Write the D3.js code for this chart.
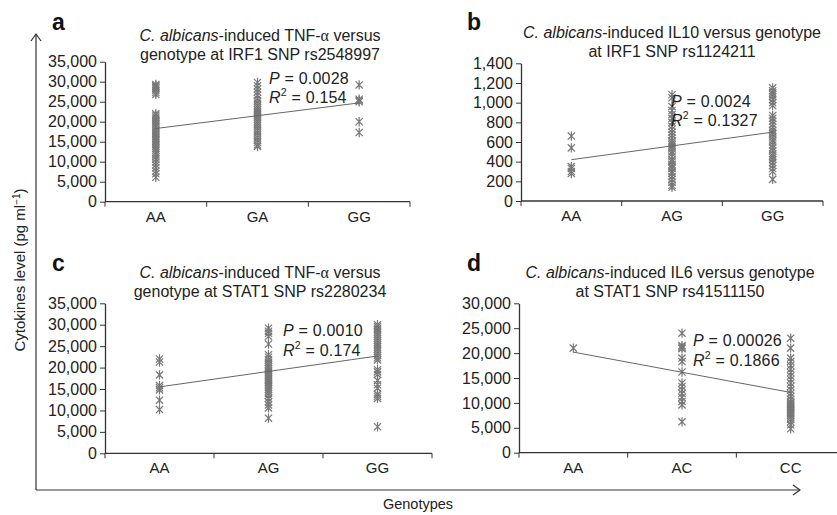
<!DOCTYPE html>
<html>
<head>
<meta charset="utf-8">
<script src="https://cdn.jsdelivr.net/npm/d3@7"></script>
<style>
  body { margin: 0; background: #fff; }
  svg { font-family: "Liberation Sans", Arial, sans-serif; }
</style>
</head>
<body>
<svg id="chart" width="837" height="515"></svg>
<script>
// panel a: TNF-a vs IRF1 rs2548997
var aCats = ["AA", "GA", "GG"],
    aTicks = [0, 5000, 10000, 15000, 20000, 25000, 30000, 35000],
    aAA = [29300, 29000, 28800, 28500, 28200, 27800, 27300, 26800, 22000, 21600, 21200, 20800, 20300, 19900, 19500, 19000, 18600, 18100, 17700, 17200, 16800, 16300, 15900, 15500, 15100, 14700, 14300, 13900, 13400, 12900, 12300, 11800, 11200, 10600, 9900, 9200, 8500, 7600, 7000, 6100],
    aGA = [29800, 29000, 28200, 27400, 26600, 25800, 25200, 24600, 24000, 23500, 23000, 22600, 22200, 21800, 21400, 21000, 20500, 20000, 19500, 19000, 18400, 17800, 17200, 16600, 16000, 15400, 14800, 14200, 13800],
    aGG = [29200, 25600, 25300, 25000, 20000, 17300],
    aFit = [18300, 24700];

// panel b: IL10 vs IRF1 rs1124211
var bCats = ["AA", "AG", "GG"],
    bTicks = [0, 200, 400, 600, 800, 1000, 1200, 1400],
    bAA = [660, 540, 350, 330, 300, 280],
    bAG = [1080, 1050, 960, 920, 880, 840, 800, 760, 730, 700, 670, 640, 610, 590, 570, 550, 530, 500, 480, 450, 420, 400, 370, 350, 330, 300, 280, 250, 220, 190, 160, 140],
    bGG = [1150, 1120, 1100, 1080, 1060, 1030, 1000, 970, 870, 840, 810, 780, 750, 720, 700, 680, 650, 620, 600, 570, 540, 510, 480, 460, 440, 420, 390, 360, 330, 300, 220],
    bFit = [420, 700];

// panel c: TNF-a vs STAT1 rs2280234
var cCats = ["AA", "AG", "GG"],
    cTicks = [0, 5000, 10000, 15000, 20000, 25000, 30000, 35000],
    cAA = [22000, 21300, 18300, 15800, 15300, 14800, 12400, 10200],
    cAG = [29200, 28500, 28000, 27300, 25500, 23000, 22400, 21800, 21200, 20700, 20200, 19800, 19400, 19000, 18600, 18200, 17800, 17400, 17000, 16600, 16200, 15800, 15400, 15000, 14500, 14000, 13500, 12800, 12000, 11300, 10600, 8200],
    cGG = [30000, 29600, 29200, 28800, 28300, 27800, 27300, 26800, 26300, 25800, 25300, 24800, 24300, 23800, 23300, 22800, 22300, 21800, 19500, 19000, 18400, 17000, 16000, 15200, 13800, 13300, 12800, 6200],
    cFit = [15500, 22700];

// panel d: IL6 vs STAT1 rs41511150
var dCats = ["AA", "AC", "CC"],
    dTicks = [0, 5000, 10000, 15000, 20000, 25000, 30000],
    dAA = [21000],
    dAC = [24000, 21500, 21200, 20900, 19000, 18300, 16200, 14000, 13300, 12600, 11900, 11100, 10300, 9600, 6200],
    dCC = [23000, 21000, 19000, 18300, 17500, 16800, 16100, 15400, 14700, 14000, 13300, 12600, 11900, 11300, 10700, 10200, 9900, 9600, 9300, 9000, 8700, 8400, 8100, 7800, 7500, 7100, 6700, 6200, 5600, 4800],
    dFit = [20200, 12100];

var panels = [
    {letter: "a", cats: aCats, ticks: aTicks, groups: [aAA, aGA, aGG], fit: aFit,
     x0: 105, x1: 410, y0: 201.7, y1: 61.7, lx: 52, ly: 30,
     tx: 260, ty: 40.5, t1: ["TNF-", "α", " versus"], t2: "genotype at IRF1 SNP rs2548997",
     px: 269, py: 83.5, p: "0.0028", r: "0.154"},
    {letter: "b", cats: bCats, ticks: bTicks, groups: [bAA, bAG, bGG], fit: bFit,
     x0: 521, x1: 823, y0: 201, y1: 63.3, lx: 467, ly: 30,
     tx: 672, ty: 37.5, t1: ["IL10 versus genotype"], t2: "at IRF1 SNP rs1124211",
     px: 671, py: 106.5, p: "0.0024", r: "0.1327"},
    {letter: "c", cats: cCats, ticks: cTicks, groups: [cAA, cAG, cGG], fit: cFit,
     x0: 105, x1: 432, y0: 453.3, y1: 303.3, lx: 52, ly: 271,
     tx: 260, ty: 277.5, t1: ["TNF-", "α", " versus"], t2: "genotype at STAT1 SNP rs2280234",
     px: 283, py: 336, p: "0.0010", r: "0.174"},
    {letter: "d", cats: dCats, ticks: dTicks, groups: [dAA, dAC, dCC], fit: dFit,
     x0: 519, x1: 845, y0: 452.7, y1: 303.3, lx: 467, ly: 271,
     tx: 670, ty: 277.5, t1: ["IL6 versus genotype"], t2: "at STAT1 SNP rs41511150",
     px: 693, py: 346, p: "0.00026", r: "0.1866"}
];

var svg = d3.select("#chart"),
    ink = "#222",
    markColor = "#777";

// asterisk marker: X with a vertical bar
function star(s) {
    return "M" + (-s) + "," + (-s) + "L" + s + "," + s +
           "M" + (-s) + "," + s + "L" + s + "," + (-s) +
           "M0," + (-s * 1.3) + "L0," + (s * 1.3);
}

panels.forEach(function (pn) {
    var g = svg.append("g"),
        x = d3.scaleBand().domain(pn.cats).range([pn.x0, pn.x1]).padding(0),
        y = d3.scaleLinear().domain([0, d3.max(pn.ticks)]).range([pn.y0, pn.y1]),
        cx = function (c) { return x(c) + x.bandwidth() / 2; };

    // y axis
    var yAxis = d3.axisLeft(y).tickValues(pn.ticks).tickSize(5).tickSizeOuter(0)
        .tickFormat(d3.format(","));
    var ya = g.append("g").attr("transform", "translate(" + pn.x0 + ",0)").call(yAxis);
    ya.select(".domain").attr("stroke", "#333").attr("stroke-width", 1.3);
    ya.selectAll(".tick line").attr("stroke", "#333");
    ya.selectAll(".tick text").attr("font-size", 16).attr("fill", ink).attr("x", -8)
        .attr("font-family", "Liberation Sans, Arial, sans-serif");

    // x axis: line, boundary ticks, labels
    g.append("line").attr("x1", pn.x0).attr("x2", pn.x1).attr("y1", pn.y0).attr("y2", pn.y0)
        .attr("stroke", "#333").attr("stroke-width", 1.3);
    var bounds = pn.cats.map(function (c) { return x(c); }).concat([pn.x1]);
    g.selectAll(".bt").data(bounds).enter().append("line")
        .attr("x1", function (d) { return d; }).attr("x2", function (d) { return d; })
        .attr("y1", pn.y0).attr("y2", pn.y0 + 5).attr("stroke", "#333");
    g.selectAll(".xl").data(pn.cats).enter().append("text")
        .attr("x", cx).attr("y", pn.y0 + 20).attr("text-anchor", "middle")
        .attr("font-size", 15).attr("fill", ink).text(function (d) { return d; });

    // points
    pn.groups.forEach(function (vals, i) {
        var c = pn.cats[i];
        g.selectAll(".m" + i).data(vals).enter().append("path")
            .attr("d", star(3.6))
            .attr("transform", function (v) { return "translate(" + cx(c) + "," + y(v) + ")"; })
            .attr("fill", "none").attr("stroke", markColor).attr("stroke-width", 1.2);
    });

    // trend line
    g.append("line")
        .attr("x1", cx(pn.cats[0])).attr("y1", y(pn.fit[0]))
        .attr("x2", cx(pn.cats[2])).attr("y2", y(pn.fit[1]))
        .attr("stroke", "#666").attr("stroke-width", 1);

    // panel letter
    g.append("text").attr("x", pn.lx).attr("y", pn.ly).attr("font-size", 23)
        .attr("font-weight", "bold").attr("fill", "#111").text(pn.letter);

    // title
    var t1 = g.append("text").attr("x", pn.tx).attr("y", pn.ty).attr("text-anchor", "middle")
        .attr("font-size", 16).attr("fill", ink);
    t1.append("tspan").attr("font-style", "italic").text("C. albicans");
    t1.append("tspan").text("-induced " + pn.t1[0]);
    if (pn.t1.length > 1) {
        t1.append("tspan").attr("font-family", "Liberation Serif, serif").text(pn.t1[1]);
        t1.append("tspan").text(pn.t1[2]);
    }
    g.append("text").attr("x", pn.tx).attr("y", pn.ty + 19.5).attr("text-anchor", "middle")
        .attr("font-size", 16).attr("fill", ink).text(pn.t2);

    // stats
    var ps = g.append("text").attr("x", pn.px).attr("y", pn.py).attr("font-size", 16)
        .attr("letter-spacing", 0.2).attr("fill", ink);
    ps.append("tspan").attr("font-style", "italic").text("P");
    ps.append("tspan").text(" = " + pn.p);
    var rs = g.append("text").attr("x", pn.px).attr("y", pn.py + 19.5).attr("font-size", 16)
        .attr("letter-spacing", 0.2).attr("fill", ink);
    rs.append("tspan").attr("font-style", "italic").text("R");
    rs.append("tspan").attr("font-size", 10.5).attr("dy", -7).text("2");
    rs.append("tspan").attr("dy", 7).text(" = " + pn.r);
});

// shared arrows
svg.append("line").attr("x1", 36).attr("x2", 36).attr("y1", 34).attr("y2", 490)
    .attr("stroke", "#333").attr("stroke-width", 1.2);
svg.append("path").attr("d", "M31,41L36,34L41,41").attr("fill", "none").attr("stroke", "#333").attr("stroke-width", 1.2);
svg.append("line").attr("x1", 36).attr("x2", 800).attr("y1", 490).attr("y2", 490)
    .attr("stroke", "#333").attr("stroke-width", 1.2);
svg.append("path").attr("d", "M793,485L800,490L793,495").attr("fill", "none").attr("stroke", "#333").attr("stroke-width", 1.2);

svg.append("text").attr("x", 418).attr("y", 509).attr("text-anchor", "middle")
    .attr("font-size", 14.5).attr("fill", ink).text("Genotypes");

var yl = svg.append("text").attr("transform", "translate(25,270) rotate(-90)")
    .attr("text-anchor", "middle").attr("font-size", 15).attr("fill", ink);
yl.append("tspan").text("Cytokines level (pg ml");
yl.append("tspan").attr("font-size", 10).attr("dy", -5).text("−1");
yl.append("tspan").attr("dy", 5).text(")");
</script>
</body>
</html>
